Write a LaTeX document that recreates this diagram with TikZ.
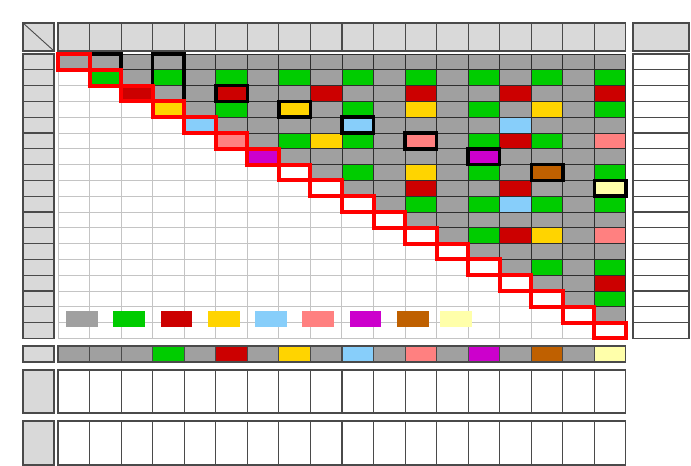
\documentclass[tikz,border=0pt]{standalone}
\definecolor{c1}{HTML}{A0A0A0}
\definecolor{c2}{HTML}{00CC00}
\definecolor{c3}{HTML}{CC0000}
\definecolor{c4}{HTML}{FFD400}
\definecolor{c5}{HTML}{87CEFA}
\definecolor{c6}{HTML}{FF8080}
\definecolor{c7}{HTML}{CC00CC}
\definecolor{c8}{HTML}{BF6000}
\definecolor{c9}{HTML}{FFFFAA}
\definecolor{hdr}{HTML}{D9D9D9}
\definecolor{edge}{HTML}{4A4A4A}
\definecolor{cellline}{HTML}{2E2E2E}
\definecolor{lgrid}{HTML}{C4C4C4}
\tikzset{
  hdrcell/.style={fill=hdr,draw=edge,line width=1.1pt},
  plaincell/.style={fill=white,draw=edge,line width=1.1pt},
  upcell/.style={draw=cellline,line width=0.9pt},
  blackbox/.style={draw=black,line width=3.5pt},
  redbox/.style={draw=red,line width=4pt},
  gridline/.style={draw=lgrid,line width=1pt}
}
\begin{document}
\begin{tikzpicture}[x=1pt,y=-1pt]
\useasboundingbox (0,0) rectangle (691,466);
\def\cw{31.55}
\def\rh{15.8}
% corner header
\draw[hdrcell] (23,23) rectangle (54,51);
\draw[edge,line width=0.9pt] (23,23) -- (54,51);
% top header row
\foreach \c in {1,...,18} {
  \draw[hdrcell] ({58+(\c-1)*\cw},23) rectangle ++(\cw,28);
}
% right header
\draw[hdrcell] (633,23) rectangle (689,51);
% left and right columns
\foreach \r in {1,...,18} {
  \draw[hdrcell] (23,{54+(\r-1)*\rh}) rectangle (54,{54+\r*\rh});
  \draw[plaincell] (633,{54+(\r-1)*\rh}) rectangle (689,{54+\r*\rh});
}
% main grid background and light lines
\fill[white] (58,54) rectangle ({58+18*\cw},{54+18*\rh});
\foreach \i in {0,...,18} {
  \draw[gridline] ({58+\i*\cw},54) -- ({58+\i*\cw},{54+18*\rh});
  \draw[gridline] (58,{54+\i*\rh}) -- ({58+18*\cw},{54+\i*\rh});
}
% upper triangle cells coloured by gcd
\foreach \r in {1,...,17} {
  \pgfmathtruncatemacro\cs{\r+1}
  \foreach \c in {\cs,...,18} {
    \pgfmathtruncatemacro\g{gcd(\r,\c)}
    \draw[upcell,fill=c\g] ({58+(\c-1)*\cw},{54+(\r-1)*\rh}) rectangle ++(\cw,\rh);
  }
}
% the odd cell
\draw[upcell,fill=c4] ({58+8*\cw},{54+5*\rh}) rectangle ++(\cw,\rh);
% diagonal fills
\foreach \r in {1,...,7} {
  \fill[c\r] ({58+(\r-1)*\cw},{54+(\r-1)*\rh}) rectangle ++(\cw,\rh);
}
% legend swatches
\foreach \a/\b/\k in {66/97.7/1,113.3/145/2,160.7/192.3/3,208/239.5/4,255/286.7/5,302.3/334/6,349.7/381.3/7,397/428.7/8,440.3/471.7/9} {
  \fill[c\k] (\a,310.5) rectangle (\b,326.5);
}
% black boxes
\draw[blackbox] ({58+1*\cw},54) rectangle ++(\cw,\rh);
\draw[blackbox] ({58+3*\cw},54) rectangle ++(\cw,{3*\rh});
\foreach \r in {3,...,9} {
  \pgfmathtruncatemacro\c{2*\r}
  \draw[blackbox] ({58+(\c-1)*\cw},{54+(\r-1)*\rh}) rectangle ++(\cw,\rh);
}
% red diagonal boxes
\foreach \r in {1,...,18} {
  \draw[redbox] ({58+(\r-1)*\cw},{54+(\r-1)*\rh}) rectangle ++(\cw,\rh);
}
% summary row
\draw[hdrcell] (23,346) rectangle (54,362);
\foreach \c/\k in {1/1,2/1,3/1,4/2,5/1,6/3,7/1,8/4,9/1,10/5,11/1,12/6,13/1,14/7,15/1,16/8,17/1,18/9} {
  \draw[fill=c\k,draw=edge,line width=1.1pt] ({58+(\c-1)*\cw},346) rectangle ++(\cw,16);
}
% two tall rows
\foreach \ya/\yb in {370/413,421/465} {
  \draw[hdrcell] (23,\ya) rectangle (54,\yb);
  \foreach \c in {1,...,18} {
    \draw[plaincell] ({58+(\c-1)*\cw},\ya) rectangle ({58+\c*\cw},\yb);
  }
}
\end{tikzpicture}
\end{document}
